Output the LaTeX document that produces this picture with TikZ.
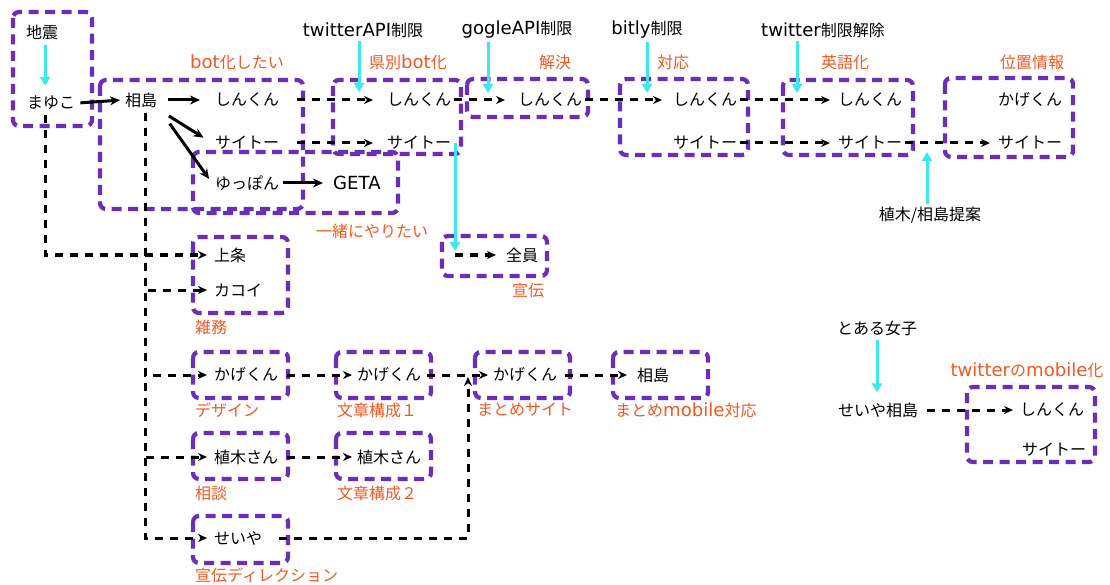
\documentclass[tikz,border=0pt]{standalone}
\usepackage{fontspec}
\setmainfont{Noto Sans CJK JP}
\newfontfamily\latfont{DejaVu Sans}[Scale=1.13]
\newcommand{\latn}[1]{{\latfont #1}}
\usetikzlibrary{arrows.meta}
\definecolor{grp}{HTML}{6A2FB8}
\definecolor{org}{HTML}{F05A22}
\definecolor{cyn}{HTML}{3EE8F0}
\begin{document}
\begin{tikzpicture}[x=1pt,y=-1pt,
  every node/.style={font=\fontsize{16}{19}\selectfont, inner sep=3pt, text=black},
  tx/.style={anchor=west},
  lab/.style={text=org},
  grpbox/.style={draw=grp, line width=4.2pt, dash pattern=on 10pt off 6.5pt, rounded corners=6pt},
  sol/.style={draw=black, line width=3pt, -{Stealth[length=10pt,width=9pt]}},
  dsh/.style={draw=black, line width=3pt, dash pattern=on 8pt off 7pt, -{Stealth[length=9pt,width=8pt]}},
  cy/.style={draw=cyn, line width=3pt, -{Triangle[length=9pt,width=10pt]}},
  sa/.style={shorten <=#1pt}, sb/.style={shorten >=#1pt}]
\fill[white] (0,0) rectangle (1110,585);
\useasboundingbox (0,0) rectangle (1110,585);

% group boxes
\draw[grpbox] (13,12) rectangle (92,126);
\draw[grpbox] (100,80) rectangle (303,209);
\draw[grpbox] (333,80) rectangle (461,154);
\draw[grpbox] (193,152) rectangle (398,213);
\draw[grpbox] (467,79) rectangle (588,117);
\draw[grpbox] (620,79) rectangle (748,155);
\draw[grpbox] (783,80) rectangle (913,155);
\draw[grpbox] (945,78) rectangle (1073,157);
\draw[grpbox] (442,236) rectangle (547,276);
\draw[grpbox] (193,237) rectangle (288,313);
\draw[grpbox] (193,352) rectangle (288,398);
\draw[grpbox] (336,352) rectangle (431,398);
\draw[grpbox] (475,352) rectangle (570,398);
\draw[grpbox] (613,352) rectangle (708,398);
\draw[grpbox] (193,433) rectangle (288,479);
\draw[grpbox] (336,433) rectangle (431,479);
\draw[grpbox] (193,516) rectangle (288,563);
\draw[grpbox] (967,387) rectangle (1095,462);

% text nodes
\node[tx] (jishin) at (23,32) {地震};
\node[tx] (mayuko) at (24,103) {まゆこ};
\node[tx] (aij) at (122,100) {相島};
\node[tx] (shin1) at (212,100) {しんくん};
\node[tx] (sai1) at (212,143) {サイトー};
\node[tx] (yup) at (212,183) {ゆっぽん};
\node[tx] (geta) at (330,183) {\latn{GETA}};
\node[tx] (shin2) at (384,100) {しんくん};
\node[tx] (sai2) at (384,143) {サイトー};
\node[tx] (shin3) at (515,100) {しんくん};
\node[tx] (shin4) at (670,100) {しんくん};
\node[tx] (sai4) at (670,143) {サイトー};
\node[tx] (shin5) at (835,100) {しんくん};
\node[tx] (sai5) at (835,143) {サイトー};
\node[tx] (kage6) at (995,100) {かげくん};
\node[tx] (sai6) at (995,143) {サイトー};
\node (ltw) at (363,30) {\latn{twitterAPI}制限};
\node (lgo) at (517,30) {\latn{gogleAPI}制限};
\node (lbi) at (647,30) {\latn{bitly}制限};
\node (ltc) at (823,30) {\latn{twitter}制限解除};
\node[lab] (obot) at (237,62) {\latn{bot}化したい};
\node[lab] (oken) at (408,62) {県別\latn{bot}化};
\node[lab] (okai) at (555,62) {解決};
\node[lab] (otai) at (673,62) {対応};
\node[lab] (oei) at (845,62) {英語化};
\node[lab] (oichi) at (1032,62) {位置情報};
\node[lab] (oiss) at (372,231) {一緒にやりたい};
\node (lue) at (930,215) {植木/相島提案};
\node[tx] (zen) at (503,255) {全員};
\node[lab] (osen) at (528,290) {宣伝};
\node[tx] (kami) at (211,255) {上条};
\node[tx] (kako) at (211,290) {カコイ};
\node[lab,anchor=west] (ozat) at (192,327) {雑務};
\node[tx] (kage1) at (211,375) {かげくん};
\node[tx] (kage2) at (354,375) {かげくん};
\node[tx] (kage3) at (490,375) {かげくん};
\node[tx] (aij2) at (634,375) {相島};
\node[lab,anchor=west] (odes) at (192,410) {デザイン};
\node[lab,anchor=west] (obun1) at (334,410) {文章構成１};
\node[lab,anchor=west] (omat) at (474,410) {まとめサイト};
\node[lab,anchor=west] (omob) at (612,410) {まとめ\latn{mobile}対応};
\node[tx] (ueki1) at (211,457) {植木さん};
\node[tx] (ueki2) at (354,457) {植木さん};
\node[lab,anchor=west] (osou) at (192,493) {相談};
\node[lab,anchor=west] (obun2) at (334,493) {文章構成２};
\node[tx] (sei) at (211,538) {せいや};
\node[lab,anchor=west] (osend) at (192,575) {宣伝ディレクション};
\node (toa) at (877,328) {とある女子};
\node[tx] (seiaij) at (835,410) {せいや相島};
\node[tx] (shin7) at (1017,410) {しんくん};
\node[tx] (sai7) at (1019,450) {サイトー};
\node[lab] (omobtw) at (1027,370) {\latn{twitter}の\latn{mobile}化};

% free ends
\coordinate (c1) at (359,92);
\coordinate (c2) at (488,93);
\coordinate (c3) at (647,93);
\coordinate (c4) at (797,93);
\coordinate (c5) at (927,152);
\coordinate (cz) at (455,255);
\coordinate (czt) at (455,251);
\coordinate (cup) at (468,377);

% solid arrows
\draw[sol, sa=2, sb=2] (mayuko.east) -- (aij.west);
\draw[sol, sa=8, sb=12] (aij.east) -- (shin1.west);
\draw[sol, sa=10, sb=10] (aij.south east) -- (sai1.west);
\draw[sol, sa=16, sb=5] (aij.south east) -- (yup.west);
\draw[sol, sa=1, sb=7] (yup.east) -- (geta.west);

% dashed top chain
\draw[dsh, sa=15, sb=11] (shin1.east) -- (shin2.west);
\draw[dsh, sa=15, sb=11] (sai1.east) -- (sai2.west);
\draw[dsh, sa=0, sb=10] (shin2.east) -- (shin3.west);
\draw[dsh, sa=0, sb=8] (shin3.east) -- (shin4.west);
\draw[dsh, sa=0, sb=5] (shin4.east) -- (shin5.west);
\draw[dsh, sa=0, sb=5] (sai4.east) -- (sai5.west);
\draw[dsh, sa=0, sb=5] (sai5.east) -- (sai6.west);

% left tree
\draw[dsh, sa=2, sb=4] ([xshift=-6pt]mayuko.south) |- (kami.west);
\draw[dsh, sa=2, sb=4] ([xshift=4pt]aij.south) |- (kako.west);
\draw[dsh, sa=2, sb=4] ([xshift=4pt]aij.south) |- (kage1.west);
\draw[dsh, sa=2, sb=4] ([xshift=4pt]aij.south) |- (ueki1.west);
\draw[dsh, sa=2, sb=4] ([xshift=4pt]aij.south) |- (sei.west);

\draw[dsh, sa=6, sb=2] (kage1.east) -- (kage2.west);
\draw[dsh, sa=3, sb=2] (kage2.east) -- (kage3.west);
\draw[dsh, sa=5, sb=7] (kage3.east) -- (aij2.west);
\draw[dsh, sa=6, sb=2] (ueki1.east) -- (ueki2.west);
\draw[dsh, sa=14] (sei.east) -| (cup);

\draw[dsh, sb=7] (cz) -- (zen.west);
\draw[dsh, sa=6, sb=4] (seiaij.east) -- (shin7.west);

% cyan arrows
\draw[cy, sa=2, sb=7] ([xshift=-6pt]mayuko.north |- jishin.south) -- ([xshift=-6pt]mayuko.north);
\draw[cy] (ltw.south -| c1) -- (c1);
\draw[cy] (lgo.south -| c2) -- (c2);
\draw[cy] (lbi.south -| c3) -- (c3);
\draw[cy] (ltc.south -| c4) -- (c4);
\draw[cy] (lue.north -| c5) -- (c5);
\draw[cy] (cz |- sai2.east) -- (czt);
\draw[cy, sa=1, sb=7] (toa.south) -- (seiaij.north -| toa.south);
\end{tikzpicture}
\end{document}
